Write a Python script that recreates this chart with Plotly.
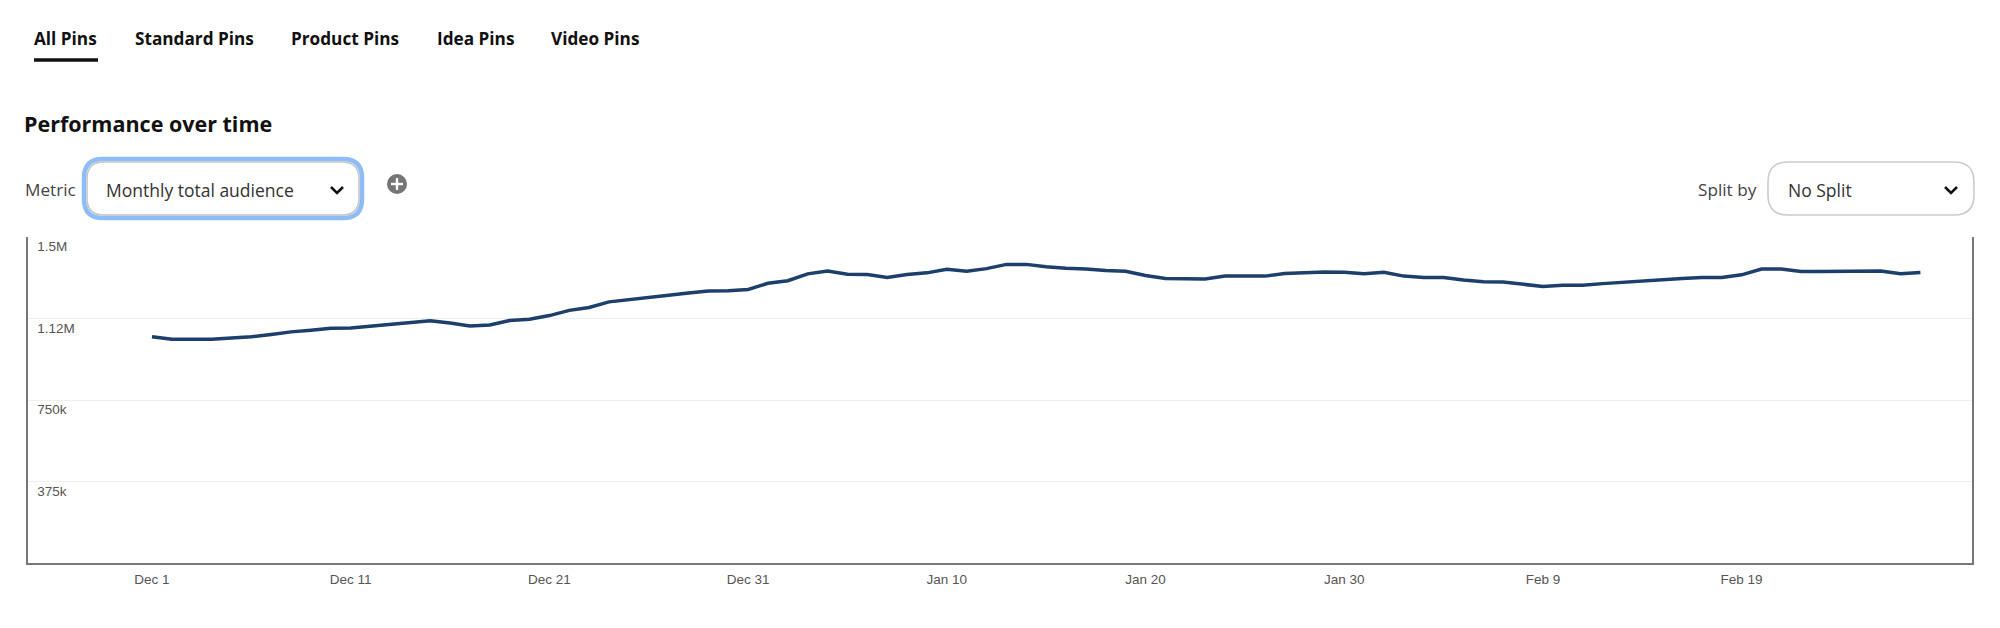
import pandas as pd
import plotly.graph_objects as go

W, H = 2000, 628
L, R, T, B = 28, 1972, 237, 563

start_date = "2021-12-01"
audience = [
    1041000, 1029000, 1029000, 1029000, 1035000, 1041000, 1051500, 1063500, 1071000, 1080000,
    1081500, 1090500, 1099500, 1107000, 1114500, 1104000, 1090500, 1095000, 1116000, 1122000,
    1138500, 1162500, 1176000, 1201500, 1210500, 1219500, 1231500, 1242000, 1251000, 1252500,
    1258500, 1287000, 1299000, 1330500, 1344000, 1329000, 1327500, 1314000, 1327500, 1335000,
    1351500, 1342500, 1354500, 1374000, 1374000, 1363500, 1356000, 1353000, 1345500, 1342500,
    1323000, 1309500, 1306500, 1306500, 1320000, 1320000, 1320000, 1332000, 1336500, 1339500,
    1338000, 1330500, 1338000, 1320000, 1314000, 1314000, 1302000, 1294500, 1293000, 1284000,
    1272000, 1278000, 1278000, 1285500, 1291500, 1300500, 1306500, 1309500, 1314000, 1314000,
    1326000, 1353000, 1353000, 1341000, 1341000, 1341000, 1341000, 1344000, 1330500, 1336500,
]
y_ticks = [0, 375000, 750000, 1125000, 1500000]
y_labels = ["", "375k", "750k", "1.12M", "1.5M"]
x_labels = ["Dec 1", "Dec 11", "Dec 21", "Dec 31", "Jan 10", "Jan 20", "Jan 30", "Feb 9", "Feb 19"]
tabs = ["All Pins", "Standard Pins", "Product Pins", "Idea Pins", "Video Pins"]

dates = pd.date_range(start_date, periods=len(audience), freq="D")
x_ticks = list(dates[::10][:len(x_labels)])
px_per_day = 19.87
first_px = 152
x_lo = dates[0] + pd.Timedelta(days=(L - first_px) / px_per_day)
x_hi = dates[0] + pd.Timedelta(days=(R - first_px) / px_per_day)


def fx(p):
    return (p - L) / (R - L)


def fy(p):
    return (B - p) / (B - T)


def P(xp, yp):
    return f"{fx(xp):.5f},{fy(yp):.5f}"


def rrect(x0, y0, x1, y1, r):
    return (f"M {P(x0 + r, y0)} L {P(x1 - r, y0)} Q {P(x1, y0)} {P(x1, y0 + r)} "
            f"L {P(x1, y1 - r)} Q {P(x1, y1)} {P(x1 - r, y1)} "
            f"L {P(x0 + r, y1)} Q {P(x0, y1)} {P(x0, y1 - r)} "
            f"L {P(x0, y0 + r)} Q {P(x0, y0)} {P(x0 + r, y0)} Z")


def shape_path(path, line_color, width, fill="rgba(0,0,0,0)"):
    return dict(type="path", xref="paper", yref="paper", path=path,
                line=dict(color=line_color, width=width), fillcolor=fill, layer="above")


def label(text, xp, yp, size, color, weight=400, family="Open Sans"):
    return dict(text=text, xref="paper", yref="paper", x=fx(xp), y=fy(yp), xanchor="left",
                yanchor="middle", showarrow=False, align="left",
                font=dict(family=family, size=size, color=color, weight=weight))


tab_x = [32, 133, 289, 435, 549]
annotations = [label(t, x, 38, 17.2, "#111111", 700) for t, x in zip(tabs, tab_x)]
annotations += [
    label("Performance over time", 22, 123, 21.5, "#111111", 700),
    label("Metric", 23, 190, 17.2, "#444444"),
    label("Monthly total audience", 104, 190, 17.5, "#333333"),
    label("Split by", 1696, 190, 17.2, "#444444"),
    label("No Split", 1786, 190, 17.5, "#333333"),
]

shapes = [
    shape_path(rrect(84, 159, 362, 218, 19), "#8cbdf7", 4.5, "#ffffff"),
    shape_path(rrect(87, 162, 359, 215, 17), "#c4c4c4", 1.5),
    shape_path(rrect(1768, 162, 1974, 215, 20), "#cccccc", 1.6, "#ffffff"),
    shape_path(f"M {P(331, 187)} L {P(337, 193)} L {P(343, 187)}", "#111111", 2.5),
    shape_path(f"M {P(1945, 187)} L {P(1951, 193)} L {P(1957, 187)}", "#111111", 2.5),
    dict(type="circle", xref="paper", yref="paper", x0=fx(387), x1=fx(407), y0=fy(194), y1=fy(174),
         fillcolor="#757575", line=dict(width=0), layer="above"),
    shape_path(f"M {P(391, 184)} L {P(403, 184)}", "#ffffff", 2.4),
    shape_path(f"M {P(397, 178)} L {P(397, 190)}", "#ffffff", 2.4),
    shape_path(f"M {P(34, 60)} L {P(98, 60)}", "#111111", 3.5),
]

fig = go.Figure(
    go.Scatter(x=dates, y=audience, mode="lines", line=dict(color="#1d3f6b", width=3.5), showlegend=False)
)
fig.update_layout(
    width=W, height=H, margin=dict(l=L, r=W - R, t=T, b=H - B, pad=0),
    paper_bgcolor="#ffffff", plot_bgcolor="#ffffff",
    annotations=annotations, shapes=shapes,
    xaxis=dict(range=[x_lo, x_hi], tickmode="array", tickvals=x_ticks, ticktext=x_labels,
               showgrid=False, showline=True, linecolor="#777777", linewidth=2, ticks="",
               tickfont=dict(family="Liberation Sans", size=13.5, color="#555555"), ticklabelstandoff=3),
    yaxis=dict(range=[0, 1500000], tickmode="array", tickvals=y_ticks, ticktext=y_labels,
               ticklabelposition="inside bottom", showgrid=True, gridcolor="#efefef", gridwidth=1,
               showline=True, mirror=True, linecolor="#777777", linewidth=2, ticks="", zeroline=False,
               tickfont=dict(family="Liberation Sans", size=13.5, color="#555555"), ticklabelstandoff=8),
)
fig.write_html("out.html", config={"displayModeBar": False},
               post_script="document.body.style.margin='0';document.body.style.overflow='hidden';")
